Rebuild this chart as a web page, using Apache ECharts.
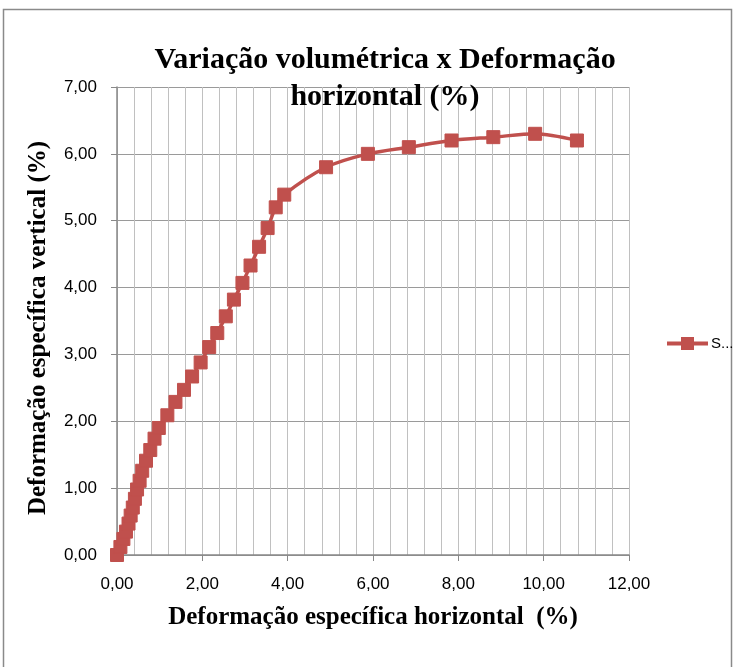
<!DOCTYPE html>
<html><head><meta charset="utf-8">
<script src="https://cdn.jsdelivr.net/npm/echarts@6/dist/echarts.min.js"></script>
<style>html,body{margin:0;padding:0;background:#fff}#c{width:735px;height:667px}</style>
</head><body><div id="c"></div>
<script>
var titleLines = ["Variação volumétrica x Deformação", "horizontal (%)"];
var xName = "Deformação específica horizontal  (%)";
var yName = "Deformação específica vertical (%)";
var seriesName = "S...";
var xValues = [0, 0.08, 0.15, 0.21, 0.27, 0.32, 0.37, 0.42, 0.47, 0.53, 0.59, 0.68, 0.78, 0.88, 0.98,
  1.18, 1.37, 1.57, 1.76, 1.96, 2.16, 2.35, 2.55, 2.74, 2.94, 3.13, 3.33, 3.53, 3.72, 3.92,
  4.90, 5.88, 6.84, 7.84, 8.82, 9.80, 10.78];
var yValues = [0, 0.12, 0.24, 0.35, 0.47, 0.59, 0.71, 0.84, 0.98, 1.11, 1.26, 1.41, 1.57, 1.74, 1.90,
  2.09, 2.29, 2.47, 2.67, 2.88, 3.11, 3.32, 3.57, 3.82, 4.07, 4.33, 4.61, 4.89, 5.20, 5.39,
  5.80, 6.00, 6.10, 6.20, 6.25, 6.30, 6.20];

var fmt = function (v) { return v.toFixed(2).replace('.', ','); };
var data = xValues.map(function (x, i) { return [x, yValues[i]]; });
var chart = echarts.init(document.getElementById('c'), null, {renderer: 'canvas'});
chart.setOption({
  animation: false,
  backgroundColor: '#fff',
  graphic: [{type: 'rect', shape: {x: 3.5, y: 9.5, width: 728, height: 700},
    style: {fill: 'none', stroke: '#8a8a8a', lineWidth: 1.5}, silent: true}],
  title: {text: titleLines.join('\n'), left: 380, top: 37, textAlign: 'center',
    textStyle: {fontFamily: 'Liberation Serif', fontWeight: 'bold', fontSize: 30, lineHeight: 37, color: '#000'}},
  legend: {left: 662, top: 331, itemWidth: 41, itemHeight: 13, itemGap: 4,
    data: [{name: seriesName, icon: 'path://M0,4.5 H14 V0 H27 V4.5 H41 V8.5 H27 V13 H14 V8.5 H0 Z'}],
    itemStyle: {color: '#c0504d'},
    textStyle: {fontFamily: 'Liberation Sans', fontSize: 15, color: '#000', padding: [0, 0, 0, -2]}},
  grid: {left: 117, right: 106, top: 87, bottom: 112},
  xAxis: {type: 'value', min: 0, max: 12, interval: 2,
    name: xName, nameLocation: 'middle', nameGap: 50,
    nameTextStyle: {fontFamily: 'Liberation Serif', fontWeight: 'bold', fontSize: 25, color: '#000'},
    axisLine: {show: true, onZero: false, lineStyle: {color: '#888', width: 1.5}},
    axisTick: {show: true, length: 6, lineStyle: {color: '#888'}},
    minorTick: {show: false, splitNumber: 5},
    splitLine: {show: true, lineStyle: {color: '#c0c0c0', width: 1}},
    minorSplitLine: {show: true, lineStyle: {color: '#c0c0c0', width: 1}},
    axisLabel: {formatter: fmt, margin: 21, fontFamily: 'Liberation Sans', fontSize: 17, color: '#000'}},
  yAxis: {type: 'value', min: 0, max: 7, interval: 1,
    name: yName, nameLocation: 'middle', nameGap: 66, nameRotate: 90,
    nameTextStyle: {fontFamily: 'Liberation Serif', fontWeight: 'bold', fontSize: 25, color: '#000', padding: [0, 14, 0, 0]},
    axisLine: {show: true, lineStyle: {color: '#888', width: 1.5}},
    axisTick: {show: true, length: 6, lineStyle: {color: '#888'}},
    splitLine: {show: true, lineStyle: {color: '#9a9a9a', width: 1}},
    axisLabel: {formatter: fmt, margin: 20, fontFamily: 'Liberation Sans', fontSize: 17, color: '#000'}},
  series: [{name: seriesName, type: 'line', data: data, smooth: 0.3,
    symbol: 'rect', symbolSize: 13,
    lineStyle: {color: '#c0504d', width: 3.5},
    itemStyle: {color: '#c0504d', borderColor: '#c0504d'}}]
});
</script></body></html>
